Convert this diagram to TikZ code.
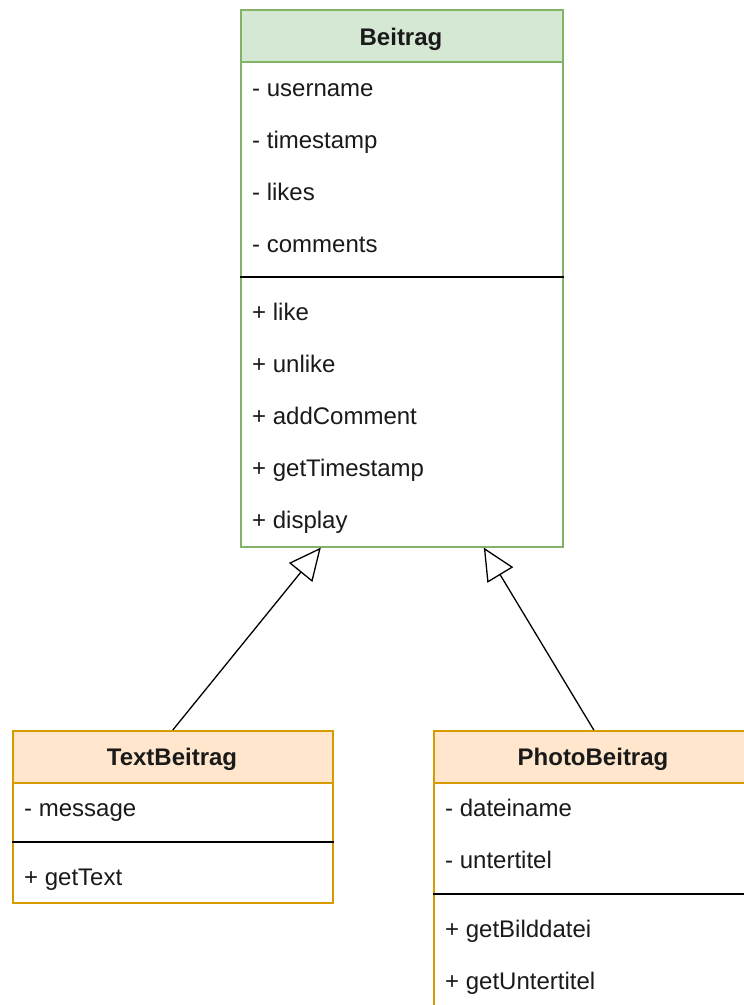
\documentclass[tikz,border=0pt]{standalone}
\usepackage{fontspec}
\setmainfont{Liberation Sans}
\usetikzlibrary{arrows.meta}
\definecolor{gfill}{HTML}{D5E8D4}
\definecolor{gline}{HTML}{82B366}
\definecolor{ofill}{HTML}{FFE6CC}
\definecolor{oline}{HTML}{D79B00}
\definecolor{txt}{HTML}{1A1A1A}
\tikzset{
  body/.style={draw=#1, line width=1.6pt, fill=white, anchor=north west, inner sep=0pt},
  head/.style={draw=#1, line width=1.6pt, anchor=north west, inner sep=0pt, minimum height=52pt},
  title/.style={anchor=base, inner sep=0pt, text=txt, font=\fontsize{24}{28}\selectfont\bfseries},
  member/.style={anchor=base west, inner sep=0pt, text=txt, font=\fontsize{24}{28}\selectfont},
  sepline/.style={black, line width=1.6pt},
  inherit/.style={line width=1.3pt, -{Triangle[open, length=32pt, width=30pt, line width=1.3pt]}},
}
\begin{document}
\begin{tikzpicture}[x=1pt, y=-1pt]
\useasboundingbox (0,0) rectangle (744,1005);
\clip (0,0) rectangle (744,1005);
% Beitrag
\node[body=gline, minimum width=322pt, minimum height=537pt] (beitrag) at (240,9) {};
\node[head=gline, fill=gfill, minimum width=322pt] (beitragHead) at (240,9) {};
\node[title] (beitragTitle) at (401,45) {Beitrag};
\node[member] (b1) at (252,96.5) {- username};
\node[member] (b2) at (252,148.5) {- timestamp};
\node[member] (b3) at (252,200.5) {- likes};
\node[member] (b4) at (252,252.5) {- comments};
\draw[sepline] (beitrag.west |- 0,277) -- (beitrag.east |- 0,277);
\node[member] (b5) at (252,320.5) {+ like};
\node[member] (b6) at (252,372.5) {+ unlike};
\node[member] (b7) at (252,424.5) {+ addComment};
\node[member] (b8) at (252,476.5) {+ getTimestamp};
\node[member] (b9) at (252,528.5) {+ display};
% TextBeitrag
\node[body=oline, minimum width=320pt, minimum height=172pt] (text) at (12,730) {};
\node[head=oline, fill=ofill, minimum width=320pt] (textHead) at (12,730) {};
\node[title] (textTitle) at (172,765.5) {TextBeitrag};
\node[member] (t1) at (24,816.5) {- message};
\draw[sepline] (text.west |- 0,842) -- (text.east |- 0,842);
\node[member] (t2) at (24,885.5) {+ getText};
% PhotoBeitrag
\node[body=oline, minimum width=320pt, minimum height=286pt] (photo) at (433,730) {};
\node[head=oline, fill=ofill, minimum width=320pt] (photoHead) at (433,730) {};
\node[title] (photoTitle) at (593,765.5) {PhotoBeitrag};
\node[member] (p1) at (445,816.5) {- dateiname};
\node[member] (p2) at (445,868.5) {- untertitel};
\draw[sepline] (photo.west |- 0,894) -- (photo.east |- 0,894);
\node[member] (p3) at (445,937.5) {+ getBilddatei};
\node[member] (p4) at (445,989.5) {+ getUntertitel};
% inheritance
\draw[inherit] (textHead.north) -- ([xshift=-81pt]beitrag.south);
\draw[inherit] (photoHead.north) -- ([xshift=82pt]beitrag.south);
\end{tikzpicture}
\end{document}
